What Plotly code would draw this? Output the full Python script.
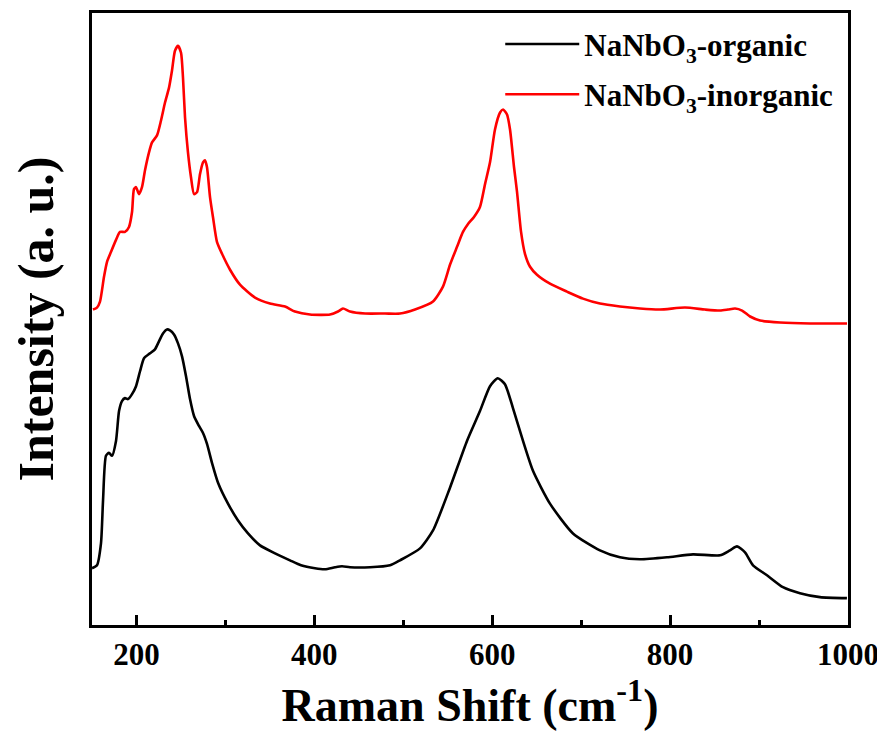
import plotly.graph_objects as go

# Raman shift (cm^-1) and intensity (a.u.)
organic_x = [150.0, 155.6, 160.1, 162.4, 165.7, 169.1, 172.5, 177.0, 180.4, 183.7, 187.1, 190.5,
             195.0, 199.5, 204.0, 208.5, 215.2, 220.8, 225.3, 229.8, 234.3, 237.7, 242.2, 246.7,
             251.2, 255.7, 260.2, 264.7, 270.3, 274.8, 279.3, 284.9, 291.7, 302.9, 314.2, 325.4,
             338.9, 355.8, 372.6, 385.0, 400.7, 412.0, 423.2, 431.1, 440.1, 462.6, 485.1, 496.3,
             518.8, 533.4, 552.5, 571.6, 586.2, 597.5, 606.2, 614.3, 623.3, 634.6, 645.8, 664.9,
             690.8, 721.1, 743.6, 766.1, 796.5, 825.7, 856.1, 867.3, 875.2, 884.2, 893.2, 908.9,
             926.9, 946.0, 968.5, 998.8]
organic_y = [57, 60, 82, 125, 170, 173, 170, 185, 215, 225, 228, 227,
             232, 240, 255, 268, 273, 277, 285, 293, 297, 296, 292, 283,
             270, 250, 227, 210, 200, 193, 182, 163, 143, 122, 105, 92,
             80, 72, 65, 60, 57, 56, 58, 59, 58, 58, 60, 65,
             77, 95, 138, 185, 215, 240, 248, 242, 218, 185, 155, 122,
             92, 75, 68, 66, 68, 71, 70, 75, 79, 73, 60, 50,
             38, 32, 28, 27]

inorganic_x = [151.1, 155.6, 159.0, 163.5, 166.9, 171.4, 177.0, 181.5, 187.1, 191.6, 195.0, 197.2,
               199.5, 202.8, 206.2, 209.6, 214.1, 217.5, 223.1, 227.6, 232.1, 236.6, 239.9, 243.3,
               246.7, 250.1, 252.3, 254.6, 257.9, 261.3, 264.7, 268.1, 271.4, 274.8, 277.0, 279.3,
               282.7, 286.0, 290.5, 296.2, 305.2, 316.4, 333.3, 350.1, 367.0, 378.2, 395.1, 417.6,
               426.6, 432.2, 440.1, 457.0, 479.4, 496.3, 513.2, 533.4, 544.6, 552.5, 560.4, 567.1,
               572.8, 579.5, 586.2, 591.9, 597.5, 603.1, 608.8, 612.2, 616.6, 620.0, 624.5, 627.9,
               632.4, 636.8, 642.5, 650.3, 664.9, 684.0, 702.0, 721.1, 743.6, 766.1, 788.6, 816.7,
               839.2, 856.1, 865.1, 873.0, 880.9, 889.9, 901.1, 923.6, 957.4, 998.9]
inorganic_y = [317, 319, 325, 350, 365, 375, 387, 395, 395, 400, 415, 438,
               440, 433, 440, 457, 475, 485, 492, 507, 525, 540, 557, 577,
               582, 575, 550, 510, 475, 450, 433, 435, 453, 465, 467, 460,
               430, 410, 385, 373, 357, 342, 329, 323, 320, 315, 312, 312,
               315, 318, 315, 313, 313, 313, 317, 325, 340, 362, 380, 395,
               403, 410, 420, 443, 465, 498, 515, 518, 513, 498, 460, 435,
               395, 373, 360, 352, 343, 335, 328, 323, 320, 318, 317, 319,
               317, 316, 317, 318, 316, 310, 306, 304, 303, 303]

x_ticks = [200, 400, 600, 800, 1000]
x_minor_ticks = [300, 500, 700, 900]
series_names = ["NaNbO<sub>3</sub>-organic", "NaNbO<sub>3</sub>-inorganic"]

FONT = "Liberation Serif, Times New Roman, serif"

fig = go.Figure()
fig.add_trace(go.Scatter(x=organic_x, y=organic_y, mode="lines", name=series_names[0],
                         line=dict(color="#000000", width=2.6, shape="spline", smoothing=0.6),
                         legendgroup="a"))
fig.add_trace(go.Scatter(x=inorganic_x, y=inorganic_y, mode="lines", name=series_names[1],
                         line=dict(color="#ff0000", width=2.6, shape="spline", smoothing=0.6),
                         legendgroup="b"))

fig.update_layout(
    width=877, height=727,
    margin=dict(l=84, r=37, t=2, b=110),
    plot_bgcolor="white", paper_bgcolor="white",
    font=dict(family=FONT, color="black"),
    showlegend=True,
    legend=dict(x=0.54, y=0.993, xanchor="left", yanchor="top",
                font=dict(family=FONT, size=31, color="black", weight="bold"),
                bgcolor="rgba(0,0,0,0)", tracegroupgap=7, itemwidth=74),
    xaxis=dict(range=[150, 1000], tickvals=x_ticks, ticks="inside", ticklen=10, tickwidth=2.5,
               tickcolor="black", showline=True, linecolor="black", linewidth=3, mirror=True,
               showgrid=False, zeroline=False,
               tickfont=dict(family=FONT, size=31, color="black", weight="bold"),
               minor=dict(ticks="inside", ticklen=5, tickwidth=2.5, tickcolor="black",
                          tickvals=x_minor_ticks, showgrid=False),
               title=dict(text="<b>Raman Shift (cm<sup>-1</sup>)</b>",
                          font=dict(family=FONT, size=46, color="black"), standoff=6)),
    yaxis=dict(range=[0, 615], showticklabels=False, ticks="", showline=True,
               linecolor="black", linewidth=3, mirror=True, showgrid=False, zeroline=False,
               title=dict(text="<b>Intensity (a. u.)</b>",
                          font=dict(family=FONT, size=50, color="black"), standoff=20)),
)

fig.write_html("out.html")
